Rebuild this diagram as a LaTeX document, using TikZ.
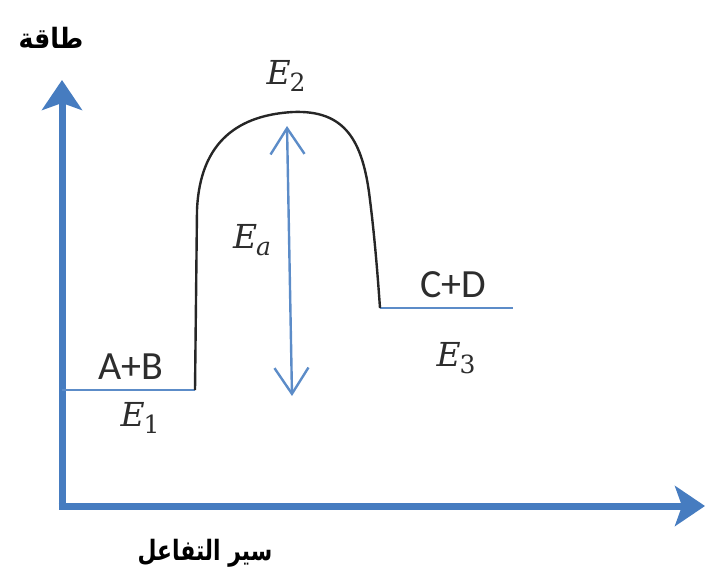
\documentclass[tikz,border=0pt]{standalone}
\usepackage{fontspec}
\usetikzlibrary{arrows.meta}
\TeXXeTstate=1
\newfontfamily\arabicfont[Script=Arabic]{DejaVu Sans}
\newfontfamily\calib{Carlito}
\newfontfamily\dvs{DejaVu Serif}
\newcommand\Elab[1]{{\itshape E}\kern-1pt\raisebox{-0.22em}{\fontsize{25}{27}\selectfont #1}}
\definecolor{axblue}{RGB}{70,124,192}
\definecolor{lnblue}{RGB}{92,140,200}
\definecolor{txt}{RGB}{45,45,45}
\tikzset{
  axis/.style={line width=7pt, color=axblue, -{Stealth[length=30pt,width=40pt,inset=7pt]}},
  level/.style={line width=2.2pt, color=lnblue},
  curve/.style={line width=2.4pt, color=black!85},
  ea/.style={line width=2.4pt, color=lnblue, {Straight Barb[length=26pt,width=34pt,line width=2.4pt]}-{Straight Barb[length=26pt,width=34pt,line width=2.4pt]}},
  species/.style={font=\calib\fontsize{40}{44}\selectfont, text=txt, inner sep=0pt},
  elabel/.style={font=\dvs\fontsize{33}{36}\selectfont, text=txt, inner sep=0pt},
  arlabel/.style={font=\arabicfont\bfseries\fontsize{28}{30}\selectfont, text=black, inner sep=0pt}
}
\begin{document}
\begin{tikzpicture}[x=1pt,y=-1pt]
\useasboundingbox (0,0) rectangle (708,578);
% axes
\coordinate (O) at (62,506);
\coordinate (ytip) at (62,80);
\coordinate (xtip) at (705,506);
\draw[axis] (O) -- (ytip);
\draw[axis] ([xshift=-3.5pt]O) -- (xtip);
% levels
\coordinate (l1a) at (62,390);
\coordinate (l1b) at (195,390);
\coordinate (l3a) at (380,308);
\coordinate (l3b) at (513,308);
\draw[level] (l1a) -- (l1b);
\draw[level] (l3a) -- (l3b);
% curve
\coordinate (c1) at (197,210);
\coordinate (peak) at (293,112);
\coordinate (c2) at (370,200);
\draw[curve] (l1b) -- (c1) .. controls (200,140) and (240,115) .. (peak)
  .. controls (345,110) and (363,140) .. (c2)
  .. controls (375,240) and (378,280) .. (l3a);
% Ea arrow
\coordinate (eatop) at (287,126);
\coordinate (eabot) at (292,396);
\draw[ea] (eatop) -- (eabot);
% labels
\node[species] (ab) at (131,367) {A+B};
\node[species] (cd) at (453,285) {C+D};
\node[elabel] (e1) at (140,418) {\Elab{1}};
\node[elabel] (e2) at (286,76) {\Elab{2}};
\node[elabel] (ea) at (252,240) {\Elab{\itshape a}};
\node[elabel] (e3) at (456,358) {\Elab{3}};
\node[arlabel] (en) at (51,38) {\scalebox{0.9}[1]{\beginR طاقة\endR}};
\node[arlabel] (rp) at (205,553) {\scalebox{0.78}[1]{\beginR سير التفاعل\endR}};
\end{tikzpicture}
\end{document}
